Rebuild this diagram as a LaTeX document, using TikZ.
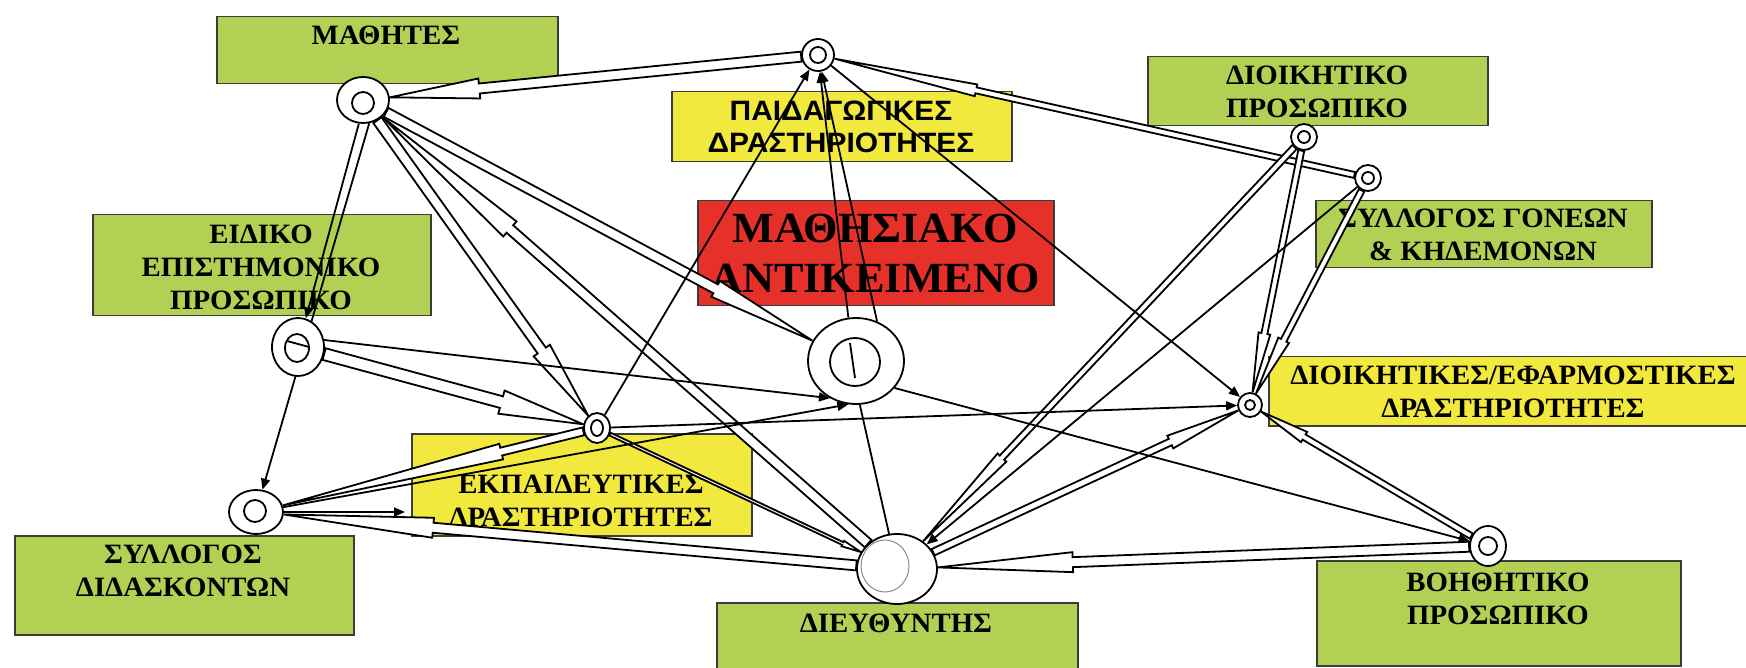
\documentclass[tikz,border=0pt]{standalone}
\usepackage{fontspec}
\setmainfont{Liberation Serif}
\newfontfamily\bserif{Liberation Serif Bold}[FakeStretch=1.03]
\newfontfamily\bigserif{Liberation Serif Bold}[FakeStretch=1.03]
\newfontfamily\bsans{Liberation Sans Bold}[FakeStretch=1.07]
\usetikzlibrary{calc,arrows.meta,shapes.geometric}
\pgfdeclarelayer{paper}
\pgfdeclarelayer{boxes}
\pgfdeclarelayer{lines}
\pgfsetlayers{paper,boxes,lines,main}
\definecolor{boxgreen}{RGB}{178,208,84}
\definecolor{boxyellow}{RGB}{242,233,62}
\definecolor{boxred}{RGB}{230,48,42}
\definecolor{boxedge}{RGB}{60,60,60}
\tikzset{
  box/.style={draw=boxedge, line width=1.5pt, rectangle, inner sep=0pt, anchor=north west},
  gbox/.style={box, fill=boxgreen},
  ybox/.style={box, fill=boxyellow},
  rbox/.style={box, fill=boxred},
  lbl/.style={font=\bserif\fontsize{28}{33}\selectfont, align=center, text=black, inner sep=0pt},
  slbl/.style={font=\bsans\fontsize{28}{32}\selectfont, align=center, text=black, inner sep=0pt},
  biglbl/.style={font=\bigserif\fontsize{43}{50}\selectfont, align=center, text=black, inner sep=0pt},
  ring/.style={ellipse, draw, fill=white, line width=1.8pt, inner sep=0pt},
  conn/.style={line width=1.8pt, line join=miter, draw=black},
  arr/.style={conn, -{Triangle[length=11pt,width=9pt]}},
}
\newcommand\harrow[5]{%
  \path (#1) -- (#2) coordinate[pos=0] (hA) coordinate[pos=1] (hB);
  \coordinate (hN) at ($(hB)!#3!(hA)$);
  \draw[conn, fill=white]
    ($(hA)!#4!90:(hB)$) -- ($(hN)!#4!-90:(hA)$) -- ($(hN)!#5!-90:(hA)$) -- (hB)
    -- ($(hN)!#5!90:(hA)$) -- ($(hN)!#4!90:(hA)$) -- ($(hA)!#4!-90:(hB)$) -- cycle;
}
\begin{document}
\begin{tikzpicture}[x=1pt,y=-1pt]
\begin{pgfonlayer}{paper}
\fill[white] (0,0) rectangle (1746,668);
\end{pgfonlayer}
\useasboundingbox (0,0) rectangle (1746,668);
% ---------- boxes ----------
\begin{pgfonlayer}{boxes}
\node[gbox, minimum width=341pt, minimum height=67pt] (Bmath) at (216,16) {};
\node[lbl] at (386,35) {ΜΑΘΗΤΕΣ};
\node[ybox, minimum width=340pt, minimum height=70pt] (Bpaid) at (671,91) {};
\node[slbl] at (841,127) {ΠΑΙΔΑΓΩΓΙΚΕΣ\\ΔΡΑΣΤΗΡΙΟΤΗΤΕΣ};
\node[rbox, minimum width=356pt, minimum height=105pt] (Bobj) at (697,200) {};
\node[biglbl] at (875,253) {ΜΑΘΗΣΙΑΚΟ\\ΑΝΤΙΚΕΙΜΕΝΟ};
\node[gbox, minimum width=340pt, minimum height=69pt] (Bdioik) at (1147,56) {};
\node[lbl] at (1317,92) {ΔΙΟΙΚΗΤΙΚΟ\\ΠΡΟΣΩΠΙΚΟ};
\node[gbox, minimum width=336pt, minimum height=67pt] (Bgon) at (1315,200) {};
\node[lbl] at (1483,235) {ΣΥΛΛΟΓΟΣ ΓΟΝΕΩΝ\\\& ΚΗΔΕΜΟΝΩΝ};
\node[ybox, minimum width=500pt, minimum height=69pt] (Bdd) at (1268,356) {};
\node[lbl] at (1513,392) {ΔΙΟΙΚΗΤΙΚΕΣ/ΕΦΑΡΜΟΣΤΙΚΕΣ\\ΔΡΑΣΤΗΡΙΟΤΗΤΕΣ};
\node[gbox, minimum width=364pt, minimum height=105pt] (Bboith) at (1316,560) {};
\node[lbl] at (1498,599) {ΒΟΗΘΗΤΙΚΟ\\ΠΡΟΣΩΠΙΚΟ};
\node[gbox, minimum width=361pt, minimum height=70pt] (Bdieu) at (716,602) {};
\node[lbl] at (896,623) {ΔΙΕΥΘΥΝΤΗΣ};
\node[gbox, minimum width=339pt, minimum height=99pt] (Bsyll) at (14,535) {};
\node[lbl] at (183,571) {ΣΥΛΛΟΓΟΣ\\ΔΙΔΑΣΚΟΝΤΩΝ};
\node[gbox, minimum width=338pt, minimum height=101pt] (Beid) at (92,214) {};
\node[lbl] at (261,267) {ΕΙΔΙΚΟ\\ΕΠΙΣΤΗΜΟΝΙΚΟ\\ΠΡΟΣΩΠΙΚΟ};
\node[ybox, minimum width=340pt, minimum height=102pt] (Bekp) at (411,433) {};
\node[lbl] at (581,501) {ΕΚΠΑΙΔΕΥΤΙΚΕΣ\\ΔΡΑΣΤΗΡΙΟΤΗΤΕΣ};
\end{pgfonlayer}
% ---------- rings ----------
\node[ring, minimum width=52pt, minimum height=46pt] (Rm) at (363,100) {};
\node[ring, minimum size=32pt] (Rp) at (818,55) {};
\node[ring, minimum size=26pt] (Rdi) at (1304,137) {};
\node[ring, minimum size=26pt] (Rg) at (1368,178) {};
\node[ring, minimum size=24pt] (Rdd) at (1250,405) {};
\node[ring, minimum width=36pt, minimum height=40pt] (Rb) at (1488,546) {};
\node[ring, minimum width=80pt, minimum height=70pt] (Rdf) at (897,569) {};
\node[ring, minimum width=96pt, minimum height=86pt] (Rc) at (856,361) {};
\node[ring, minimum width=26pt, minimum height=30pt] (Re) at (597,428) {};
\node[ring, minimum width=52pt, minimum height=58pt] (Rs) at (298,347) {};
\node[ring, minimum width=54pt, minimum height=44pt] (Rsd) at (256,512) {};
% inner rings
\draw[conn] (363,103) circle[radius=11pt];
\draw[conn] (Rp.center) circle[radius=8pt];
\draw[conn] (Rdi.center) circle[radius=6pt];
\draw[conn] (Rg.center) circle[radius=6pt];
\draw[conn] (Rdd.center) circle[radius=5pt];
\draw[conn] (Rb.center) circle[radius=9pt];
\draw[line width=1pt, draw=black!45] (885,566) ellipse[x radius=24pt, y radius=26pt];
\draw[conn] (855,362) ellipse[x radius=25pt, y radius=24pt];
\draw[conn] (850,343) -- (855,378);
\draw[conn] (Re.center) ellipse[x radius=6pt, y radius=8pt];
\draw[conn] (297,348) ellipse[x radius=12pt, y radius=14pt];
\draw[conn] (287,341) -- (309,347);
\draw[conn] (255,511) circle[radius=11pt];
% ---------- connectors ----------
\begin{pgfonlayer}{lines}
\harrow{Rp}{Rm}{90pt}{5pt}{10pt}
\harrow{Rg}{Rp}{145pt}{3pt}{6pt}
\harrow{Rm}{Re}{80pt}{5pt}{10pt}
\harrow{Rm}{Rc.155}{110pt}{5pt}{9pt}
\harrow{Rdf}{Rm}{170pt}{5pt}{10pt}
\harrow{Rs}{Re}{85pt}{6pt}{12pt}
\harrow{Re}{Rsd}{225pt}{4pt}{8pt}
\harrow{Re}{Rdf}{20pt}{1.5pt}{3pt}
\harrow{Rdi}{Rdf}{115pt}{3pt}{6pt}
\harrow{Rdi}{Rdd}{60pt}{3pt}{6pt}
\harrow{Rg}{Rdd}{60pt}{3pt}{6pt}
\harrow{Rdf}{Rdd}{75pt}{3.5pt}{7pt}
\harrow{Rb}{Rdd}{50pt}{3pt}{6pt}
\harrow{Rb}{Rdf}{135pt}{5pt}{10pt}
\harrow{Rdf}{Rsd}{150pt}{5pt}{10pt}
\draw[arr] (Rm.-100) -- (Rs);
\draw[arr] (Rm.-75) -- (Rsd);
\draw[arr] (Re) -- (Rp);
\draw[arr] (Rc.100) -- (Rp);
\draw[arr] (Rc.62) -- (Rp);
\draw[arr] (Rp) -- (Rdd);
\draw[arr] (Re) -- (Rdd);
\draw[arr] (Rg) -- (Rdf);
\draw[arr] (Rc.-35) -- (Rb);
\draw[arr] (Rs.15) -- (Rc.-125);
\draw[arr] (Rsd.10) -- (Rc.-100);
\draw[conn] (Rc.-85) -- (Rdf);
\draw[arr, shorten >=6pt] (Rsd) -- (Rsd -| Bekp.west);
\end{pgfonlayer}
\end{tikzpicture}
\end{document}
